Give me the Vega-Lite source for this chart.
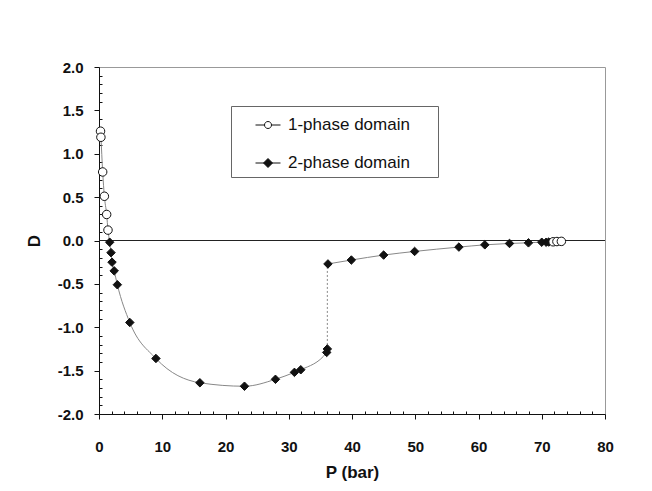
{
  "$schema": "https://vega.github.io/schema/vega-lite/v6.json",
  "width": 506,
  "height": 347,
  "autosize": "none",
  "padding": {"left": 99, "top": 67, "right": 47, "bottom": 77},
  "background": "white",
  "config": {
    "view": {"stroke": "#999", "strokeWidth": 1},
    "font": "Liberation Sans",
    "legend": {
      "orient": "none",
      "legendX": 132,
      "legendY": 39,
      "padding": 6,
      "strokeColor": "#666",
      "fillColor": "white",
      "symbolSize": 625,
      "symbolOffset": 18,
      "labelOffset": 7,
      "rowPadding": 17,
      "symbolStrokeColor": "#111",
      "symbolStrokeWidth": 1,
      "symbolOpacity": 1,
      "labelFont": "Liberation Sans",
      "labelFontSize": 17,
      "labelColor": "#111",
      "titleOrient": "right",
      "titlePadding": 22,
      "titleFontSize": 10,
      "titleColor": "white"
    }
  },
  "data": {
    "values": [
      {"P": 0.24, "D": 1.26, "phase": "1-phase domain", "branch": "low"},
      {"P": 0.30, "D": 1.19, "phase": "1-phase domain", "branch": "low"},
      {"P": 0.58, "D": 0.79, "phase": "1-phase domain", "branch": "low"},
      {"P": 0.85, "D": 0.51, "phase": "1-phase domain", "branch": "low"},
      {"P": 1.21, "D": 0.30, "phase": "1-phase domain", "branch": "low"},
      {"P": 1.42, "D": 0.12, "phase": "1-phase domain", "branch": "low"},
      {"P": 1.69, "D": -0.02, "phase": "2-phase domain", "branch": "low"},
      {"P": 1.9, "D": -0.14, "phase": "2-phase domain", "branch": "low"},
      {"P": 2.06, "D": -0.25, "phase": "2-phase domain", "branch": "low"},
      {"P": 2.4, "D": -0.35, "phase": "2-phase domain", "branch": "low"},
      {"P": 2.9, "D": -0.51, "phase": "2-phase domain", "branch": "low"},
      {"P": 4.87, "D": -0.945, "phase": "2-phase domain", "branch": "low"},
      {"P": 9.0, "D": -1.36, "phase": "2-phase domain", "branch": "low"},
      {"P": 15.95, "D": -1.64, "phase": "2-phase domain", "branch": "low"},
      {"P": 23.0, "D": -1.68, "phase": "2-phase domain", "branch": "low"},
      {"P": 27.9, "D": -1.60, "phase": "2-phase domain", "branch": "low"},
      {"P": 30.9, "D": -1.52, "phase": "2-phase domain", "branch": "low"},
      {"P": 31.9, "D": -1.49, "phase": "2-phase domain", "branch": "low"},
      {"P": 36.0, "D": -1.29, "phase": "2-phase domain", "branch": "low"},
      {"P": 36.1, "D": -1.25, "phase": "2-phase domain", "branch": "low"},
      {"P": 36.2, "D": -0.27, "phase": "2-phase domain", "branch": "high"},
      {"P": 39.9, "D": -0.225, "phase": "2-phase domain", "branch": "high"},
      {"P": 45.0, "D": -0.168, "phase": "2-phase domain", "branch": "high"},
      {"P": 49.9, "D": -0.126, "phase": "2-phase domain", "branch": "high"},
      {"P": 56.9, "D": -0.076, "phase": "2-phase domain", "branch": "high"},
      {"P": 61.0, "D": -0.05, "phase": "2-phase domain", "branch": "high"},
      {"P": 64.9, "D": -0.034, "phase": "2-phase domain", "branch": "high"},
      {"P": 67.9, "D": -0.027, "phase": "2-phase domain", "branch": "high"},
      {"P": 70.0, "D": -0.02, "phase": "2-phase domain", "branch": "high"},
      {"P": 70.7, "D": -0.02, "phase": "2-phase domain", "branch": "high"},
      {"P": 71.1, "D": -0.018, "phase": "2-phase domain", "branch": "high"},
      {"P": 71.8, "D": -0.015, "phase": "1-phase domain", "branch": "high"},
      {"P": 72.4, "D": -0.012, "phase": "1-phase domain", "branch": "high"},
      {"P": 73.1, "D": -0.01, "phase": "1-phase domain", "branch": "high"}
    ]
  },
  "encoding": {
    "x": {
      "field": "P", "type": "quantitative",
      "scale": {"domain": [0, 80], "nice": false, "zero": false},
      "axis": {
        "title": "P (bar)",
        "values": [0,2,4,6,8,10,12,14,16,18,20,22,24,26,28,30,32,34,36,38,40,42,44,46,48,50,52,54,56,58,60,62,64,66,68,70,72,74,76,78,80],
        "labelExpr": "datum.value % 10 == 0 ? format(datum.value, 'd') : ''",
        "labelOverlap": false,
        "labelFlush": false,
        "grid": false,
        "domainColor": "#111",
        "tickColor": "#111",
        "tickSize": {"condition": {"test": "datum.value % 10 == 0", "value": 5}, "value": -3},
        "labelFont": "Liberation Sans",
        "labelFontWeight": "bold",
        "labelFontSize": 15,
        "labelColor": "#111",
        "labelPadding": 20,
        "titleFont": "Liberation Sans",
        "titleFontWeight": "bold",
        "titleFontSize": 17,
        "titleColor": "#111",
        "titlePadding": 10
      }
    },
    "y": {
      "field": "D", "type": "quantitative",
      "scale": {"domain": [-2, 2], "nice": false, "zero": false},
      "axis": {
        "title": "D",
        "values": [-2.0,-1.9,-1.8,-1.7,-1.6,-1.5,-1.4,-1.3,-1.2,-1.1,-1.0,-0.9,-0.8,-0.7,-0.6,-0.5,-0.4,-0.3,-0.2,-0.1,0.0,0.1,0.2,0.3,0.4,0.5,0.6,0.7,0.8,0.9,1.0,1.1,1.2,1.3,1.4,1.5,1.6,1.7,1.8,1.9,2.0],
        "labelExpr": "abs(datum.value*2 - round(datum.value*2)) < 0.001 ? replace(format(datum.value, '.1f'), '−', '-') : ''",
        "labelOverlap": false,
        "labelFlush": false,
        "grid": false,
        "domainColor": "#111",
        "tickColor": "#111",
        "tickSize": {"condition": {"test": "abs(datum.value*2 - round(datum.value*2)) < 0.001", "value": 5}, "value": -3},
        "labelFont": "Liberation Sans",
        "labelFontWeight": "bold",
        "labelFontSize": 15,
        "labelColor": "#111",
        "labelPadding": 11,
        "titleFont": "Liberation Sans",
        "titleFontWeight": "bold",
        "titleFontSize": 17,
        "titleColor": "#111",
        "titlePadding": 14
      }
    }
  },
  "layer": [
    {
      "data": {"values": [{"z": 0}]},
      "mark": {"type": "rule", "color": "#222", "strokeWidth": 1},
      "encoding": {"x": null, "y": {"field": "z", "type": "quantitative"}}
    },
    {
      "mark": {"type": "line", "interpolate": "monotone", "color": "#888", "strokeWidth": 1},
      "encoding": {"detail": {"field": "branch"}}
    },
    {
      "data": {"values": [{"P": 36.1, "D": -1.25, "D2": -0.27}]},
      "mark": {"type": "rule", "color": "#888", "strokeWidth": 1, "strokeDash": [2, 2]},
      "encoding": {"y2": {"field": "D2"}}
    },
    {
      "mark": {"type": "point", "filled": true, "stroke": "#111", "strokeWidth": 1, "opacity": 1},
      "encoding": {
        "shape": {
          "field": "phase", "type": "nominal",
          "scale": {"domain": ["1-phase domain", "2-phase domain"], "range": ["circle", "diamond"]},
          "legend": null
        },
        "fill": {
          "field": "phase", "type": "nominal",
          "scale": {"domain": ["1-phase domain", "2-phase domain"], "range": ["white", "#111"]},
          "legend": null
        },
        "size": {"value": 72}
      }
    },
    {
      "transform": [{"filter": "datum.P < -100"}],
      "mark": {"type": "point", "filled": true, "stroke": "#111", "strokeWidth": 1, "opacity": 1},
      "encoding": {
        "shape": {
          "field": "phase", "type": "nominal",
          "scale": {"domain": ["1-phase domain", "2-phase domain"], "range": ["M-1,0H-0.28M0.28,0H1M-0.28,0A0.28,0.28,0,1,1,0.28,0A0.28,0.28,0,1,1,-0.28,0Z", "M-1,0H1M-0.36,0L0,-0.36L0.36,0L0,0.36Z"]},
          "legend": {
            "title": "\u00a0",
            "encode": {"symbols": {"update": {"stroke": {"value": "#111"}, "strokeWidth": {"value": 1}}}}
          }
        },
        "fill": {
          "field": "phase", "type": "nominal",
          "scale": {"domain": ["1-phase domain", "2-phase domain"], "range": ["white", "#111"]},
          "legend": {
            "title": "\u00a0",
            "encode": {"symbols": {"update": {"stroke": {"value": "#111"}, "strokeWidth": {"value": 1}}}}
          }
        },
        "size": {"value": 625}
      }
    }
  ],
  "resolve": {"scale": {"shape": "independent", "fill": "independent"}}
}
